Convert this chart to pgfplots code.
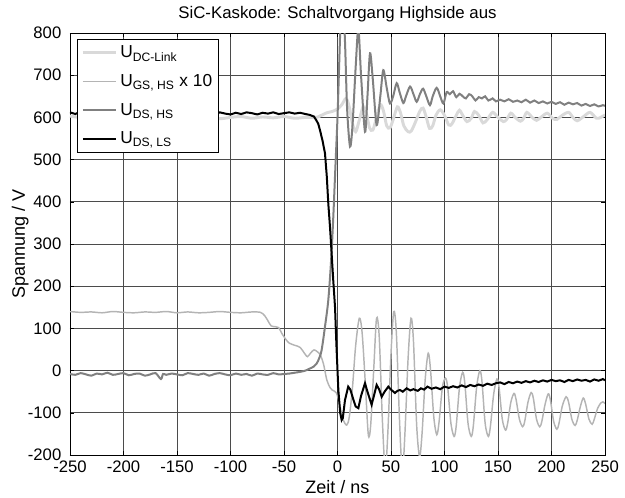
\documentclass[border=0pt]{standalone}
\usepackage{fontspec}
\setmainfont{Liberation Sans}
\usepackage{pgfplots}
\pgfplotsset{compat=1.18}
\definecolor{cdc}{RGB}{217,217,217}
\definecolor{cgs}{RGB}{180,180,180}
\definecolor{cdshs}{RGB}{128,128,128}
\definecolor{cgrid}{RGB}{75,75,75}

\begin{document}
\begin{tikzpicture}
\useasboundingbox (-52.5pt,-31.5pt) rectangle (416.25pt,341.25pt);
\begin{axis}[
    at={(0pt,0pt)}, anchor=south west,
    scale only axis,
    width=401.25pt, height=316.5pt,
    xmin=-250, xmax=250, ymin=-200, ymax=800,
    xtick={-250,-200,...,250},
    ytick={-200,-100,...,800},
    grid=major,
    grid style={color=cgrid, line width=0.6pt},
    axis line style={black, line width=0.6pt},
    tick align=inside, major tick length=3pt,
    tick style={black},
    /pgf/number format/assume math mode=true,
    tick label style={font=\fontsize{12.5}{14}\selectfont},
    yticklabel style={xshift=-3pt},
    xticklabel style={yshift=-1pt},
    label style={font=\fontsize{13.5}{15}\selectfont},
    xlabel style={at={(axis description cs:0.5,-0.076)}, anchor=center},
    ylabel style={at={(axis description cs:-0.093,0.5)}, anchor=center},
    every axis title shift=0pt,
    title style={font=\fontsize{12.6}{14}\selectfont, at={(0.5,1.045)}, anchor=center},
    title={SiC-Kaskode: Schaltvorgang Highside aus},
    xlabel={Zeit / ns},
    ylabel={Spannung / V},
    legend style={at={(0.013,0.986)}, anchor=north west, draw=black, fill=white,
      line width=0.6pt, font=\fontsize{13}{15}\selectfont, row sep=7pt,
      inner xsep=3pt, inner ysep=3pt},
    legend cell align=left,
    legend image code/.code={\draw[#1] (0pt,0pt) -- (25pt,0pt);},
]

% U_DC-Link
\addplot[cdc, line width=2.2pt, smooth] coordinates {
(-250,603)(-240,600)(-230,602)(-220,598)(-210,601)(-200,599)(-190,602)(-180,597)
(-170,600)(-160,602)(-150,598)(-140,601)(-130,599)(-120,602)(-110,597)(-100,600)
(-90,602)(-80,598)(-70,601)(-60,599)(-50,602)(-40,598)(-30,600)(-20,600)
(-15,605)(-10,611)(-5,614)(0,620)(4,630)(8,645)(11,625)(14,585)(17,566)(20,590)
(24,625)(27,610)(30,575)(33,570)(36,595)(40,630)(43,615)(46,580)(49,575)(52,595)
(56,625)(59,610)(62,580)(66,566)(69,568)(73,590)(77,615)(80,622)(83,600)(86,574)
(89,580)(92,605)(96,618)(100,605)(104,582)(107,585)(111,605)(114,617)(117,605)
(121,590)(125,598)(128,614)(132,605)(136,587)(140,595)(145,612)(150,600)(155,590)
(158,595)(162,610)(166,600)(171,591)(174,598)(177,612)(182,600)(186,593)(190,600)
(196,610)(201,598)(205,595)(210,605)(216,612)(220,600)(224,592)(230,602)(236,612)
(242,598)(246,600)(250,606)
};
\addlegendentry{U\textsubscript{DC-Link}}

% U_GS,HS x 10
\addplot[cgs, line width=1.1pt, smooth] coordinates {
(-250,140)(-240,138)(-230,139)(-220,137)(-210,140)(-200,138)(-190,137)(-180,139)
(-170,138)(-160,140)(-150,137)(-140,139)(-130,137)(-120,138)(-110,140)(-100,138)
(-90,137)(-80,139)(-72,138)(-68,130)(-65,118)(-62,106)(-58,104)(-55,102)(-52,88)
(-48,73)(-45,65)(-40,60)(-35,55)(-30,38)(-28,33)(-25,42)(-22,49)(-19,45)(-16,37)
(-13,15)(-10,-22)(-7,-40)(-5,-46)(-1,-53)(2,-80)(5,-115)(8.6,-129)(11,-110)
(14,-40)(17,60)(20.4,124)(23,90)(26,-30)(28.8,-152)(31,-130)(34,10)(36.5,124)
(39,80)(42,-120)(44.6,-235)(47,-150)(50,40)(52.6,140)(55,90)(58,-120)(60.6,-240)
(63,-150)(66,30)(68.7,124)(71,70)(74,-130)(76.7,-204)(79,-150)(82,-20)(84.8,41)
(87,0)(90,-110)(92.8,-152)(95,-120)(98,-40)(100.9,-18)(103,-40)(106,-125)(109,-156)
(111,-130)(114,-40)(117,-4)(119,-30)(122,-125)(125,-156)(127,-130)(130,-40)(133,0)
(135,-25)(138,-125)(141,-156)(143,-130)(146,-55)(149,-20)(151,-40)(154,-115)
(157,-141)(159,-125)(162,-75)(165,-54)(167,-70)(170,-115)(173,-133)(175,-120)
(178,-75)(181,-52)(183,-65)(186,-115)(189,-133)(191,-120)(194,-80)(197,-55)
(199,-70)(202,-120)(205,-139)(207,-125)(210,-85)(213.6,-62)(216,-75)(219,-115)
(222,-130)(224,-118)(227,-85)(229.7,-65)(232,-80)(235,-115)(238,-127)(240,-115)
(243,-90)(246,-77)(248,-74)(250,-78)
};
\addlegendentry{U\textsubscript{GS, HS} x 10}

% U_DS,HS
\addplot[cdshs, line width=1.5pt, smooth] coordinates {
(-250,-8)(-245,-10)(-240,-6)(-235,-9)(-230,-12)(-225,-7)(-220,-9)(-215,-5)
(-210,-10)(-205,-8)(-200,-6)(-195,-11)(-190,-8)(-185,-7)(-180,-12)(-175,-9)
(-170,-6)(-165,-20)(-163,-8)(-160,-10)(-155,-7)(-150,-9)(-145,-11)(-140,-6)
(-135,-8)(-130,-10)(-125,-7)(-120,-12)(-115,-8)(-110,-6)(-105,-9)(-100,-11)
(-95,-7)(-90,-10)(-85,-8)(-80,-12)(-75,-7)(-70,-9)(-65,-10)(-60,-6)(-55,-9)
(-50,-8)(-45,-7)(-40,-5)(-35,-3)(-30,0)(-25.7,5)(-22,10)(-19.4,17)(-17,30)
(-14.8,49)(-11.7,104)(-8.6,167)(-6,260)(-4,360)(-2,480)(0,600)(1.5,720)(3,830)
(5,880)(7,780)(9,620)(11.7,531)(14,580)(17,720)(19.5,810)(22,700)(25.7,566)
(28,650)(30.4,752)(33,690)(36.6,582)(40,650)(42.8,712)(46,670)(49,633)(52,650)
(55.3,681)(58,660)(61.5,634)(64,650)(67.8,673)(71,655)(74,637)(77,655)(80,668)
(83,650)(86.4,629)(89,650)(92.7,670)(96,650)(99,633)(102,660)(105,655)(108,662)
(111,648)(114,656)(117,650)(120,645)(123,655)(126,650)(129,640)(132,648)(135,645)
(138,650)(141,640)(145,645)(148,638)(152,642)(156,638)(160,643)(164,637)(168,640)
(172,636)(176,642)(180,635)(184,640)(188,634)(192,638)(196,633)(200,637)(204,632)
(208,636)(212,630)(216,635)(220,631)(224,634)(228,628)(232,632)(236,627)(240,631)
(244,626)(248,629)(250,627)
};
\addlegendentry{U\textsubscript{DS, HS}}

% U_DS,LS
\addplot[black, line width=1.5pt] coordinates {
(-250,612)(-245,608)(-240,614)(-235,610)(-230,607)(-225,613)(-220,609)(-215,611)
(-210,606)(-205,612)(-200,610)(-195,608)(-190,613)(-185,609)(-180,611)(-175,607)
(-170,612)(-165,610)(-160,608)(-155,613)(-150,610)(-145,606)(-140,611)(-135,609)
(-130,612)(-125,608)(-120,610)(-115,606)(-110,612)(-105,609)(-100,607)(-95,611)
(-90,608)(-85,612)(-80,610)(-75,607)(-70,611)(-65,609)(-60,612)(-55,608)(-50,610)
(-45,612)(-40,609)(-35,611)(-30,608)(-26,606)(-22,602)(-20,594)(-18,585)
(-16.4,570)(-14,545)(-11.7,515)(-10,460)(-8.6,396)(-7,340)(-5.5,278)(-4,215)
(-2.3,150)(-1,60)(0.8,-46)(2.5,-100)(3.9,-117)(5,-112)(7,-70)(10,-38)(12,-45)
(15,-70)(17,-85)(19.5,-89)(22,-60)(25.7,-30)(28,-50)(31.9,-81)(34,-60)(36.6,-34)
(39,-45)(41.3,-62)(44,-50)(47.5,-38)(50,-45)(53.7,-53)(56,-48)(58.4,-46)(61,-50)
(64.6,-42)(68,-47)(71,-44)(75,-48)(78,-42)(81,-45)(84,-38)(88,-43)(92,-40)(96,-44)
(100,-38)(104,-41)(108,-37)(112,-40)(116,-35)(120,-39)(124,-34)(128,-37)(132,-33)
(136,-36)(140,-31)(144,-34)(148,-30)(152,-28)(156,-32)(160,-27)(164,-30)(168,-26)
(172,-29)(176,-25)(180,-28)(184,-24)(188,-27)(192,-23)(196,-26)(200,-22)(204,-25)
(208,-23)(212,-27)(216,-22)(220,-25)(224,-21)(228,-24)(232,-22)(236,-26)(240,-21)
(244,-24)(248,-20)(250,-23)
};
\addlegendentry{U\textsubscript{DS, LS}}

\end{axis}
\end{tikzpicture}
\end{document}
